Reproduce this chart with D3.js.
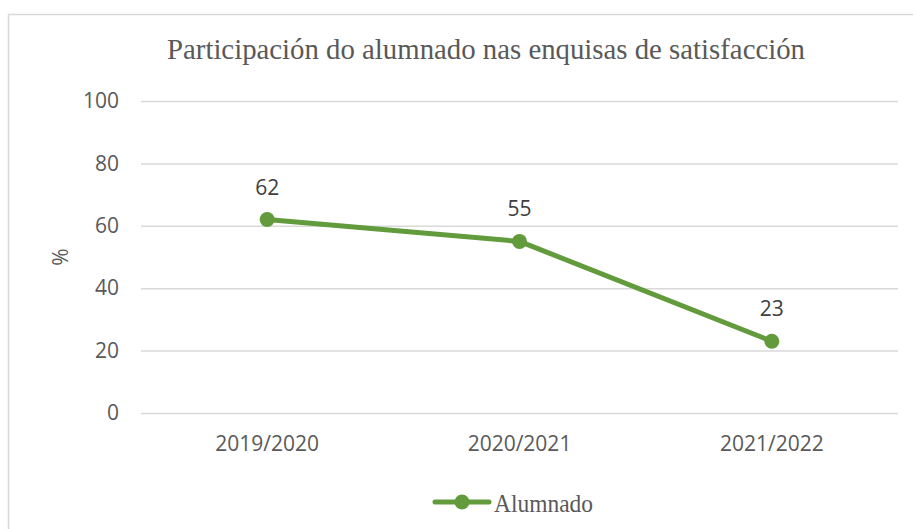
<!DOCTYPE html>
<html>
<head>
<meta charset="utf-8">
<script src="https://cdn.jsdelivr.net/npm/d3@7"></script>
<style>
  html, body { margin: 0; padding: 0; background: #fff; }
  svg { display: block; }
</style>
</head>
<body>
<svg id="chart" width="913" height="529"></svg>
<script>
// Chart data
const years = ["2019/2020", "2020/2021", "2021/2022"];
const participation = [62, 55, 23];
const yTicks = [0, 20, 40, 60, 80, 100];
const seriesName = "Alumnado";
const chartTitle = "Participación do alumnado nas enquisas de satisfacción";

const svg = d3.select("#chart");
const W = 913, H = 529;
const margin = { left: 141, right: 15, top: 101, bottom: 116 };
const green = "#629b3c";
const textGrey = "#595959";
const sans = "'Open Sans', 'Noto Sans', sans-serif";
const serif = "'Liberation Serif', 'DejaVu Serif', serif";
const fs = "21px";

svg.append("rect").attr("width", W).attr("height", H).attr("fill", "#fff");

// Chart area frame
svg.append("rect")
  .attr("x", 8.5).attr("y", 14.5)
  .attr("width", W + 20).attr("height", H + 20)
  .attr("fill", "none").attr("stroke", "#d9d9d9").attr("stroke-width", 1.5);

const x = d3.scaleBand().domain(years).range([margin.left, W - margin.right]);
const y = d3.scaleLinear().domain([0, 100]).range([H - margin.bottom, margin.top]);

// Gridlines + y tick labels
const yAxis = d3.axisLeft(y).tickValues(yTicks)
  .tickSize(-(W - margin.right - margin.left)).tickPadding(22);
const gy = svg.append("g").attr("transform", `translate(${margin.left},0)`).call(yAxis);
gy.select(".domain").remove();
gy.selectAll(".tick line").attr("stroke", "#d9d9d9").attr("stroke-width", 1.5);
gy.selectAll(".tick text")
  .attr("fill", textGrey).style("font-family", sans).style("font-size", fs);

// Category labels
const xAxis = d3.axisBottom(x).tickSize(0).tickPadding(23);
const gx = svg.append("g").attr("transform", `translate(0,${y(0)})`).call(xAxis);
gx.select(".domain").remove();
gx.selectAll(".tick text")
  .attr("fill", textGrey).style("font-family", sans).style("font-size", fs);

// Axis title
svg.append("text")
  .attr("transform", `translate(68,${(y(0) + y(100)) / 2}) rotate(-90)`)
  .attr("text-anchor", "middle")
  .attr("fill", textGrey).style("font-family", sans).style("font-size", fs)
  .text("%");

// Chart title
svg.append("text")
  .attr("x", 486).attr("y", 59)
  .attr("text-anchor", "middle")
  .attr("fill", textGrey).style("font-family", serif).style("font-size", "29px")
  .attr("textLength", 638).attr("lengthAdjust", "spacingAndGlyphs")
  .text(chartTitle);

// Series
const pts = years.map((yr, i) => ({ yr, v: participation[i] }));
const cx = d => x(d.yr) + x.bandwidth() / 2;

svg.append("path")
  .datum(pts)
  .attr("fill", "none").attr("stroke", green).attr("stroke-width", 5)
  .attr("stroke-linecap", "round").attr("stroke-linejoin", "round")
  .attr("d", d3.line().x(cx).y(d => y(d.v)));

svg.selectAll("circle.pt").data(pts).join("circle")
  .attr("class", "pt")
  .attr("cx", cx).attr("cy", d => y(d.v)).attr("r", 7.5)
  .attr("fill", green);

svg.selectAll("text.lbl").data(pts).join("text")
  .attr("class", "lbl")
  .attr("x", cx).attr("y", d => y(d.v) - 25)
  .attr("text-anchor", "middle")
  .attr("fill", "#404040").style("font-family", sans).style("font-size", fs)
  .text(d => d.v);

// Legend
const lg = svg.append("g").attr("transform", "translate(0,502)");
lg.append("line").attr("x1", 435).attr("x2", 489).attr("y1", 0).attr("y2", 0)
  .attr("stroke", green).attr("stroke-width", 5).attr("stroke-linecap", "round");
lg.append("circle").attr("cx", 462).attr("cy", 0).attr("r", 7.5).attr("fill", green);
lg.append("text").attr("x", 494).attr("y", 9.5)
  .attr("fill", textGrey).style("font-family", serif).style("font-size", "25px")
  .attr("textLength", 99).attr("lengthAdjust", "spacingAndGlyphs")
  .text(seriesName);
</script>
</body>
</html>
